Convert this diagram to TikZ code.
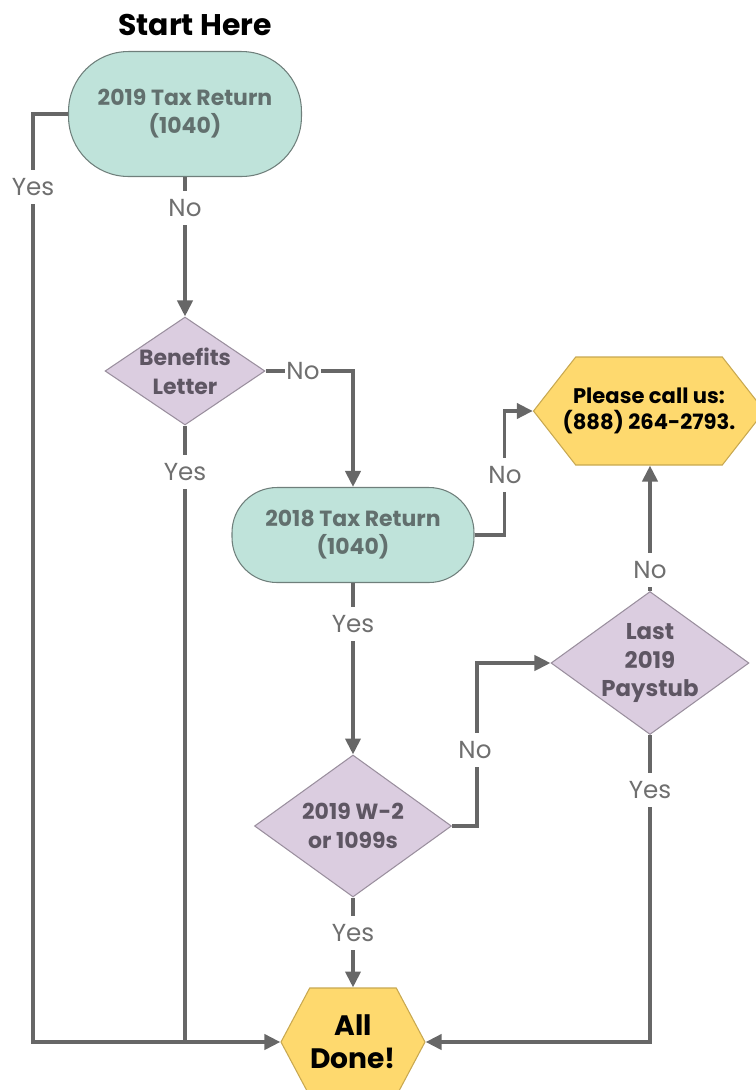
\documentclass[tikz,border=0pt]{standalone}
\usepackage{fontspec}
\setmainfont{Poppins}
\usepackage{tikz}
\usetikzlibrary{shapes.geometric,shapes.symbols,arrows.meta}
\definecolor{pillfill}{HTML}{BFE3DA}
\definecolor{pilldraw}{HTML}{6F7F7B}
\definecolor{pilltext}{HTML}{62706E}
\definecolor{questfill}{HTML}{DBCDE0}
\definecolor{questdraw}{HTML}{9A8F9E}
\definecolor{questtext}{HTML}{5E5663}
\definecolor{hexafill}{HTML}{FED96E}
\definecolor{hexadraw}{HTML}{C8A850}
\definecolor{linegrey}{HTML}{676767}
\definecolor{lblgrey}{HTML}{6F6F6F}

\tikzset{
  flow/.style={draw=linegrey, line width=2.2pt},
  arr/.style={flow, -{Triangle[length=0.32cm,width=0.3cm]}},
  pill/.style={draw=pilldraw, fill=pillfill, line width=0.6pt, text=pilltext,
    font=\bfseries\fontsize{12.5}{16}\selectfont, align=center},
  quest/.style={diamond, draw=questdraw, fill=questfill, line width=0.6pt, inner sep=0pt},
  questtxt/.style={text=questtext, font=\bfseries\fontsize{12.5}{16.5}\selectfont, align=center},
  hexa/.style={signal, signal to=east and west, draw=hexadraw, fill=hexafill,
    line width=0.6pt, inner sep=0pt},
  hexatxt/.style={text=black, align=center},
  lbl/.style={fill=white, text=lblgrey, font=\fontsize{14}{16}\selectfont,
    inner xsep=1pt, inner ysep=4.5pt},
  title/.style={font=\bfseries\fontsize{17}{20}\selectfont, text=black}
}

\begin{document}
\begin{tikzpicture}[x=0.02cm, y=-0.02cm]
  \useasboundingbox (0,0) rectangle (755,1090);

  \node[title] (start) at (195,25) {Start Here};

  % boxes
  \node[pill, minimum width=4.66cm, minimum height=2.5cm, rounded corners=1.2cm] (tax19) at (185,114) {2019 Tax Return\\(1040)};
  \node[pill, minimum width=4.84cm, minimum height=1.9cm, rounded corners=0.9cm] (tax18) at (353,535) {2018 Tax Return\\(1040)};

  % questions
  \node[quest, minimum width=3.2cm, minimum height=2.16cm,
    label={[questtxt]center:{Benefits\\Letter}}] (ben) at (185,371) {};
  \node[quest, minimum width=3.94cm, minimum height=2.84cm,
    label={[questtxt]center:{2019 W-2\\or 1099s}}] (w2) at (353,826) {};
  \node[quest, minimum width=3.96cm, minimum height=2.86cm,
    label={[questtxt, font=\bfseries\fontsize{13}{16.5}\selectfont]center:{Last\\2019\\Paystub}}] (last) at (650,663) {};

  % ends
  \node[hexa, minimum width=4.62cm, minimum height=2.16cm, signal pointer angle=104,
    label={[hexatxt, font=\bfseries\fontsize{12}{14.5}\selectfont]center:{Please call us:\\(888) 264-2793.}}] (call) at (649,411) {};
  \node[hexa, minimum width=2.88cm, minimum height=2.16cm, signal pointer angle=124,
    label={[hexatxt, font=\bfseries\fontsize{16}{19}\selectfont]center:{All\\Done!}}] (done) at (353,1042) {};

  % connectors
  \draw[arr] (tax19.west) -- (33,114) -- (33,1042) -- (done.west);
  \draw[flow] (ben.south) -- (ben.south |- done.west);
  \draw[arr] (tax19.south) -- (ben.north);
  \draw[arr] (ben.east) -| (tax18.north);
  \draw[arr] (tax18.east) -- ++(30,0) |- (call.west);
  \draw[arr] (tax18.south) -- (w2.north);
  \draw[arr] (w2.east) -- ++(25,0) |- (last.west);
  \draw[arr] (last.north) -- (last.north |- call.south);
  \draw[arr] (last.south) |- (done.east);
  \draw[arr] (w2.south) -- (done.north);

  % labels
  \node[lbl] (yes1) at (33,187) {Yes};
  \node[lbl] (no1) at (185,208) {No};
  \node[lbl] (no2) at (303,371) {No};
  \node[lbl] (yes2) at (185,472) {Yes};
  \node[lbl] (no3) at (505,475) {No};
  \node[lbl] (yes3) at (353,624) {Yes};
  \node[lbl] (no4) at (475,750) {No};
  \node[lbl] (no5) at (650,570) {No};
  \node[lbl] (yes4) at (650,790) {Yes};
  \node[lbl] (yes5) at (353,933) {Yes};
\end{tikzpicture}
\end{document}
